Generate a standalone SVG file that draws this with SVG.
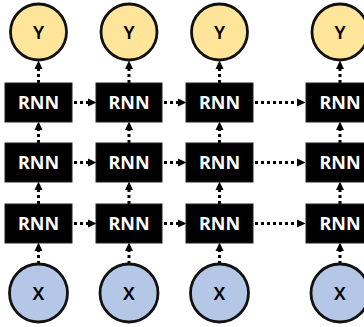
<svg xmlns="http://www.w3.org/2000/svg" width="364" height="327" viewBox="0 0 364 327">
<style>
.box{fill:#000;stroke:#222;stroke-width:1}
.rt{fill:#fff;font-family:"Noto Sans","Open Sans",sans-serif;font-weight:bold;font-size:18px;text-anchor:middle}
.ct{fill:#000;font-family:"Noto Sans","Open Sans",sans-serif;font-weight:600;font-size:18.5px;text-anchor:middle}
.y{fill:#FFE599;stroke:#111;stroke-width:2.8}
.x{fill:#B4C7E7;stroke:#111;stroke-width:2.8}
.a{fill:none;stroke:#000;stroke-width:3;stroke-dasharray:3 3;marker-end:url(#ah)}
</style>
<defs>
<marker id="ah" markerUnits="userSpaceOnUse" markerWidth="9" markerHeight="9" refX="0" refY="4.5" orient="auto">
<path d="M0,0.5 L8.5,4.5 L0,8.5 Z" fill="#000"/>
</marker>
</defs>
<rect width="364" height="327" fill="#fff"/>
<g id="connectors">
<path class="a" d="M38.5,264 V251"/>
<path class="a" d="M129,264 V251"/>
<path class="a" d="M219.5,264 V251"/>
<path class="a" d="M340,264 V251"/>
<path class="a" d="M38.5,204 V190"/>
<path class="a" d="M129,204 V190"/>
<path class="a" d="M219.5,204 V190"/>
<path class="a" d="M340,204 V190"/>
<path class="a" d="M38.5,143 V130"/>
<path class="a" d="M129,143 V130"/>
<path class="a" d="M219.5,143 V130"/>
<path class="a" d="M340,143 V130"/>
<path class="a" d="M38.5,83 V69"/>
<path class="a" d="M129,83 V69"/>
<path class="a" d="M219.5,83 V69"/>
<path class="a" d="M340,83 V69"/>
<path class="a" d="M74,102.5 H88"/>
<path class="a" d="M164,102.5 H178"/>
<path class="a" d="M255,102.5 H297"/>
<path class="a" d="M74,162.5 H88"/>
<path class="a" d="M164,162.5 H178"/>
<path class="a" d="M255,162.5 H297"/>
<path class="a" d="M74,223.5 H88"/>
<path class="a" d="M164,223.5 H178"/>
<path class="a" d="M255,223.5 H297"/>
</g>
<g id="y1"><circle class="y" cx="38.5" cy="32" r="28"/><text class="ct" x="38.5" y="38.5">Y</text></g>
<g id="y2"><circle class="y" cx="129" cy="32" r="28"/><text class="ct" x="129" y="38.5">Y</text></g>
<g id="y3"><circle class="y" cx="219.5" cy="32" r="28"/><text class="ct" x="219.5" y="38.5">Y</text></g>
<g id="y4"><circle class="y" cx="340" cy="32" r="28"/><text class="ct" x="340" y="38.5">Y</text></g>
<g id="r1c1"><rect class="box" x="5" y="83" width="67" height="39"/><text class="rt" x="38.5" y="109">RNN</text></g>
<g id="r1c2"><rect class="box" x="96" y="83" width="66" height="39"/><text class="rt" x="129" y="109">RNN</text></g>
<g id="r1c3"><rect class="box" x="186" y="83" width="67" height="39"/><text class="rt" x="219.5" y="109">RNN</text></g>
<g id="r1c4"><rect class="box" x="306" y="83" width="68" height="39"/><text class="rt" x="340" y="109">RNN</text></g>
<g id="r2c1"><rect class="box" x="5" y="143" width="67" height="39"/><text class="rt" x="38.5" y="169">RNN</text></g>
<g id="r2c2"><rect class="box" x="96" y="143" width="66" height="39"/><text class="rt" x="129" y="169">RNN</text></g>
<g id="r2c3"><rect class="box" x="186" y="143" width="67" height="39"/><text class="rt" x="219.5" y="169">RNN</text></g>
<g id="r2c4"><rect class="box" x="306" y="143" width="68" height="39"/><text class="rt" x="340" y="169">RNN</text></g>
<g id="r3c1"><rect class="box" x="5" y="204" width="67" height="39"/><text class="rt" x="38.5" y="230">RNN</text></g>
<g id="r3c2"><rect class="box" x="96" y="204" width="66" height="39"/><text class="rt" x="129" y="230">RNN</text></g>
<g id="r3c3"><rect class="box" x="186" y="204" width="67" height="39"/><text class="rt" x="219.5" y="230">RNN</text></g>
<g id="r3c4"><rect class="box" x="306" y="204" width="68" height="39"/><text class="rt" x="340" y="230">RNN</text></g>
<g id="x1"><circle class="x" cx="38.5" cy="293" r="29"/><text class="ct" x="38.5" y="299.5">X</text></g>
<g id="x2"><circle class="x" cx="129" cy="293" r="29"/><text class="ct" x="129" y="299.5">X</text></g>
<g id="x3"><circle class="x" cx="219.5" cy="293" r="29"/><text class="ct" x="219.5" y="299.5">X</text></g>
<g id="x4"><circle class="x" cx="340" cy="293" r="29"/><text class="ct" x="340" y="299.5">X</text></g>
</svg>
